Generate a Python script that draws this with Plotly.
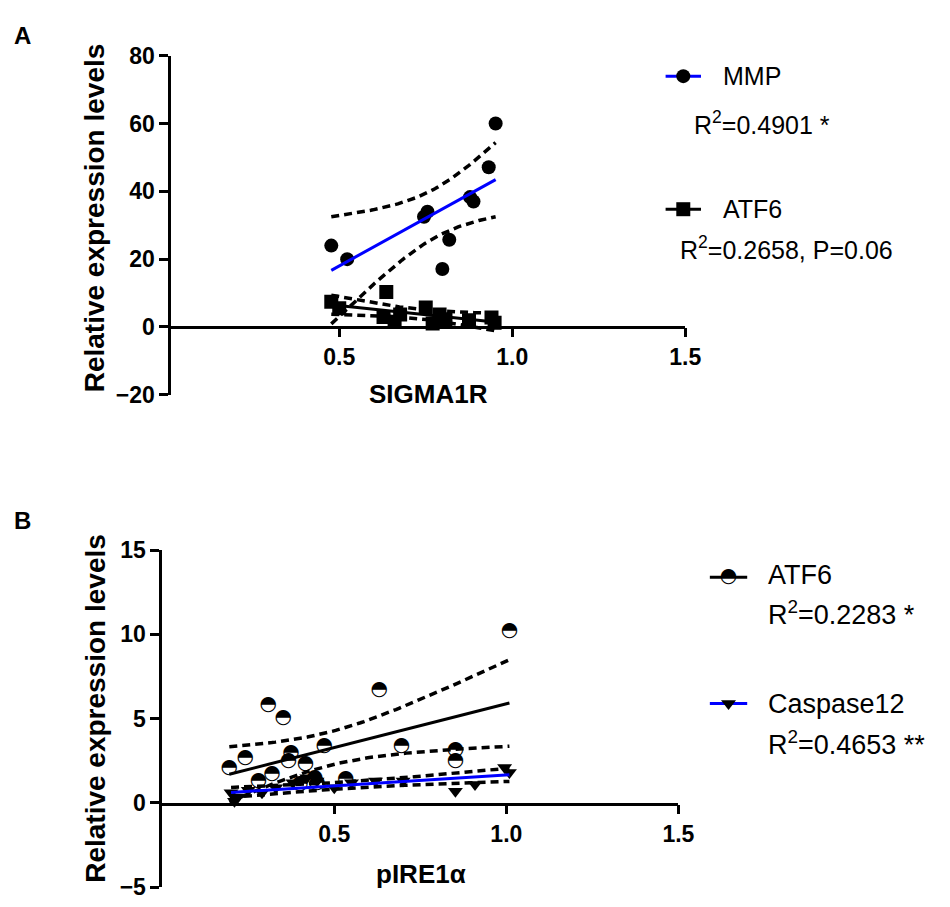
import numpy as np
import plotly.graph_objects as go

# ---------------- data ----------------
# Panel A  (x = SIGMA1R)
sigma1r_mmp = [0.477, 0.523, 0.745, 0.755, 0.798, 0.818, 0.878, 0.888, 0.932, 0.952]
mmp_a = [24.0, 20.0, 32.5, 34.0, 17.1, 25.7, 38.3, 37.0, 47.1, 60.0]
sigma1r_atf6 = [0.477, 0.500, 0.628, 0.636, 0.660, 0.676, 0.750, 0.770, 0.790, 0.807, 0.875, 0.940, 0.949]
atf6_a = [7.4, 5.5, 2.9, 10.3, 1.5, 3.7, 5.7, 1.0, 3.7, 2.3, 2.0, 2.8, 1.2]

# Panel B  (x = pIRE1a)
pire1a_atf6 = [0.195, 0.241, 0.280, 0.308, 0.319, 0.352, 0.367, 0.374, 0.400, 0.416,
               0.443, 0.450, 0.471, 0.533, 0.631, 0.695, 0.852, 0.852, 1.009]
atf6_b = [2.10, 2.64, 1.30, 5.80, 1.70, 5.03, 2.49, 2.95, 1.10, 2.29,
          1.50, 1.20, 3.35, 1.43, 6.72, 3.35, 3.16, 2.49, 10.23]
pire1a_casp = [0.200, 0.210, 0.220, 0.250, 0.290, 0.330, 0.380, 0.420, 0.450, 0.500,
               0.550, 0.620, 0.700, 0.852, 0.909, 0.995, 1.009]
casp12_b = [0.60, 0.10, 0.35, 0.75, 0.60, 0.90, 1.20, 1.50, 1.30, 0.90,
            1.20, 1.30, 1.30, 0.70, 1.10, 2.10, 1.80]

xticks = [0.5, 1.0, 1.5]
xticktext = ["0.5", "1.0", "1.5"]
yticks_a = [-20, 0, 20, 40, 60, 80]
yticks_b = [-5, 0, 5, 10, 15]

W, H = 950, 907
FONT = "Arial, Liberation Sans, sans-serif"
BLUE = "#0000ff"


def t975(df):
    z = 1.959964
    return (z + (z**3 + z) / (4 * df) + (5 * z**5 + 16 * z**3 + 3 * z) / (96 * df**2)
            + (3 * z**7 + 19 * z**5 + 17 * z**3 - 15 * z) / (384 * df**3)
            + (79 * z**9 + 776 * z**7 + 1482 * z**5 - 1920 * z**3 - 945 * z) / (92160 * df**4))


def linfit(x, y):
    x = np.asarray(x, float)
    y = np.asarray(y, float)
    n = len(x)
    b, a = np.polyfit(x, y, 1)
    xs = np.linspace(x.min(), x.max(), 80)
    yh = a + b * xs
    s = np.sqrt(np.sum((y - (a + b * x)) ** 2) / (n - 2))
    sxx = np.sum((x - x.mean()) ** 2)
    se = s * np.sqrt(1.0 / n + (xs - x.mean()) ** 2 / sxx)
    t = t975(n - 2)
    return xs, yh, yh - t * se, yh + t * se


def px(v):
    return v / W


def py(v):
    return 1 - v / H


fig = go.Figure()
dash = dict(color="black", width=3.5, dash="8px,5px")

# ---------- Panel A ----------
fig.add_trace(go.Scatter(x=sigma1r_mmp, y=mmp_a, mode="markers", xaxis="x", yaxis="y",
                         marker=dict(symbol="circle", size=14, color="black", line=dict(width=0))))
fig.add_trace(go.Scatter(x=sigma1r_atf6, y=atf6_a, mode="markers", xaxis="x", yaxis="y",
                         marker=dict(symbol="square", size=14, color="black", line=dict(width=0))))
for xv, yv, col in [(sigma1r_mmp, mmp_a, BLUE), (sigma1r_atf6, atf6_a, "black")]:
    xs, yh, lo, hi = linfit(xv, yv)
    fig.add_trace(go.Scatter(x=xs, y=lo, mode="lines", line=dash, xaxis="x", yaxis="y"))
    fig.add_trace(go.Scatter(x=xs, y=hi, mode="lines", line=dash, xaxis="x", yaxis="y"))
    fig.add_trace(go.Scatter(x=xs, y=yh, mode="lines", line=dict(color=col, width=3),
                             xaxis="x", yaxis="y"))

# ---------- Panel B ----------
fig.add_trace(go.Scatter(x=pire1a_atf6, y=atf6_b, mode="text", text=["◓"] * len(atf6_b),
                         textposition="middle center", xaxis="x2", yaxis="y2",
                         textfont=dict(family="DejaVu Sans", size=20, color="black")))
fig.add_trace(go.Scatter(x=pire1a_casp, y=casp12_b, mode="markers", xaxis="x2", yaxis="y2",
                         marker=dict(symbol="triangle-down", size=13, color="black", line=dict(width=0))))
for xv, yv, col in [(pire1a_atf6, atf6_b, "black"), (pire1a_casp, casp12_b, BLUE)]:
    xs, yh, lo, hi = linfit(xv, yv)
    fig.add_trace(go.Scatter(x=xs, y=lo, mode="lines", line=dash, xaxis="x2", yaxis="y2"))
    fig.add_trace(go.Scatter(x=xs, y=hi, mode="lines", line=dash, xaxis="x2", yaxis="y2"))
    fig.add_trace(go.Scatter(x=xs, y=yh, mode="lines", line=dict(color=col, width=3),
                             xaxis="x2", yaxis="y2"))

# ---------- legend glyphs (overlay pixel axis) ----------
leg_lines = [((677, 713), 65, BLUE), ((677, 713), 202, "black"),
             ((722, 760), 581, "black"), ((722, 760), 711, BLUE)]
for (x0, x1), yy, col in leg_lines:
    fig.add_trace(go.Scatter(x=[x0, x1], y=[yy, yy], mode="lines", xaxis="x3", yaxis="y3",
                             line=dict(color=col, width=3)))
fig.add_trace(go.Scatter(x=[695, 695, 741], y=[65, 202, 711], mode="markers", xaxis="x3", yaxis="y3",
                         marker=dict(symbol=["circle", "square", "triangle-down"], size=[14, 14, 13],
                                     color="black", opacity=1, line=dict(width=0))))
fig.add_trace(go.Scatter(x=[741], y=[581], mode="text", text=["◓"], textposition="middle center",
                         xaxis="x3", yaxis="y3",
                         textfont=dict(family="DejaVu Sans", size=20, color="black")))

axis_common = dict(showgrid=False, zeroline=False, showline=True, linecolor="black", linewidth=2.5,
                   ticks="outside", ticklen=9, tickwidth=2.5, tickcolor="black",
                   tickfont=dict(family=FONT, size=23, color="black", weight="bold"))

fig.update_layout(
    width=W, height=H, margin=dict(l=0, r=0, t=0, b=0),
    paper_bgcolor="white", plot_bgcolor="rgba(0,0,0,0)", showlegend=False,
    xaxis=dict(domain=[px(174), px(697)], range=[0.014, 1.5], tickvals=xticks, ticktext=xticktext,
               anchor="free", position=py(323), **axis_common),
    yaxis=dict(domain=[py(393), py(44)], range=[-20, 80], tickvals=yticks_a, anchor="x", **axis_common),
    xaxis2=dict(domain=[px(165), px(690)], range=[0.0, 1.5], tickvals=xticks, ticktext=xticktext,
                anchor="free", position=py(814), **axis_common),
    yaxis2=dict(domain=[py(900), py(553)], range=[-5, 15], tickvals=yticks_b, anchor="x2", **axis_common),
    xaxis3=dict(domain=[0, 1], range=[0, W], visible=False, anchor="y3", fixedrange=True),
    yaxis3=dict(domain=[0, 1], range=[H, 0], visible=False, anchor="x3", fixedrange=True),
)

ann = []


def txt(x, y, s, size, bold=False, xanchor="left", angle=0):
    ann.append(dict(x=px(x), y=py(y), xref="paper", yref="paper", text=s, showarrow=False,
                    xanchor=xanchor, yanchor="middle", textangle=angle,
                    font=dict(family=FONT, size=size, color="black", weight="bold" if bold else "normal")))


txt(23, 23, "A", 24, True, "center")
txt(23, 522, "B", 24, True, "center")
txt(97, 211, "Relative expression levels", 28, True, "center", -90)
txt(97, 716, "Relative expression levels", 28, True, "center", -90)
txt(436, 392, "SIGMA1R", 26, True, "center")
txt(428, 886, "pIRE1α", 26, True, "center")
# legend A
txt(733, 65, "MMP", 25)
txt(704, 113, "R<sup>2</sup>=0.4901 *", 25)
txt(733, 202, "ATF6", 25)
txt(690, 242, "R<sup>2</sup>=0.2658, P=0.06", 25)
# legend B
txt(779, 579, "ATF6", 27)
txt(779, 618, "R<sup>2</sup>=0.2283 *", 27)
txt(779, 711, "Caspase12", 27)
txt(779, 752, "R<sup>2</sup>=0.4653 **", 27)
fig.update_layout(annotations=ann)

fig.write_html("out.html", post_script="document.body.style.margin='0';")
